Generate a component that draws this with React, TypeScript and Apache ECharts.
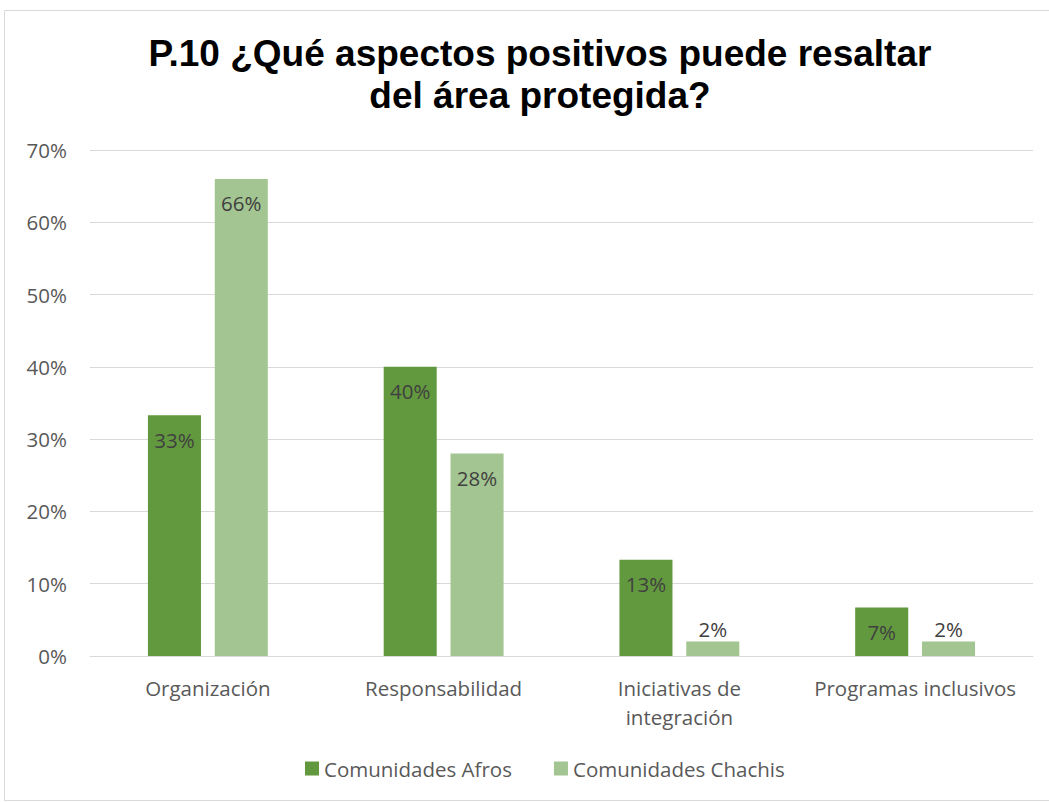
import React, { useEffect, useRef } from "react";
import * as echarts from "echarts";

const categories = ["Organización", "Responsabilidad", "Iniciativas de\nintegración", "Programas inclusivos"];
const afros = [0.333, 0.4, 0.133, 0.067];
const chachis = [0.66, 0.28, 0.02, 0.02];
const seriesNames = ["Comunidades Afros", "Comunidades Chachis"];
const titleText = "P.10 ¿Qué aspectos positivos puede resaltar\ndel área protegida?";

const FONT = "'Open Sans', 'Noto Sans', sans-serif";
const FS = 20.5;

export default function App() {
  const ref = useRef<HTMLDivElement>(null);
  useEffect(() => {
    const chart = echarts.init(ref.current!, null, { renderer: "svg" });
    const label = {
      show: true,
      position: "insideTop",
      distance: 14,
      color: "#404040",
      fontFamily: FONT,
      fontSize: FS,
      formatter: (p: any) => Math.round(p.value * 100) + "%",
    };
    const toData = (arr: number[]) =>
      arr.map((v) => (v < 0.05 ? { value: v, label: { position: "top", distance: 2 } } : v));
    chart.setOption({
      animation: false,
      backgroundColor: "#fff",
      title: {
        text: titleText,
        left: 535,
        top: 27,
        textAlign: "center",
        textStyle: {
          fontFamily: "'Liberation Sans', Arial, sans-serif",
          fontWeight: "bold",
          fontSize: 37,
          lineHeight: 42,
          color: "#000",
        },
      },
      graphic: [
        {
          type: "rect",
          shape: { x: 4.5, y: 10.5, width: 1060, height: 790 },
          style: { fill: "none", stroke: "#d9d9d9", lineWidth: 1 },
          silent: true,
        },
      ],
      legend: {
        data: seriesNames,
        bottom: 18,
        left: 300,
        itemWidth: 14,
        itemHeight: 14,
        itemGap: 42,
        icon: "rect",
        textStyle: { fontFamily: FONT, fontSize: FS, color: "#595959" },
      },
      grid: { left: 90, right: 16, top: 150, bottom: 146, containLabel: false },
      xAxis: {
        type: "category",
        data: categories,
        axisLine: { lineStyle: { color: "#d9d9d9", width: 1 } },
        axisTick: { show: false },
        axisLabel: {
          fontFamily: FONT,
          fontSize: FS,
          color: "#595959",
          margin: 17,
          lineHeight: 29,
          interval: 0,
        },
      },
      yAxis: {
        type: "value",
        min: 0,
        max: 0.7,
        interval: 0.1,
        axisLine: { show: false },
        axisTick: { show: false },
        splitLine: { lineStyle: { color: "#d9d9d9", width: 1 } },
        axisLabel: {
          fontFamily: FONT,
          fontSize: FS,
          color: "#595959",
          margin: 23,
          formatter: (v: number) => Math.round(v * 100) + "%",
        },
      },
      series: [
        {
          name: seriesNames[0],
          type: "bar",
          data: toData(afros),
          barWidth: "22.5%",
          barGap: "26%",
          itemStyle: { color: "#62993E" },
          label,
        },
        {
          name: seriesNames[1],
          type: "bar",
          data: toData(chachis),
          barWidth: "22.5%",
          itemStyle: { color: "#A3C591" },
          label,
        },
      ],
    });
    return () => chart.dispose();
  }, []);
  return (
    <div
      ref={ref}
      style={{ position: "fixed", left: 0, top: 0, width: 1049, height: 802 }}
    />
  );
}
